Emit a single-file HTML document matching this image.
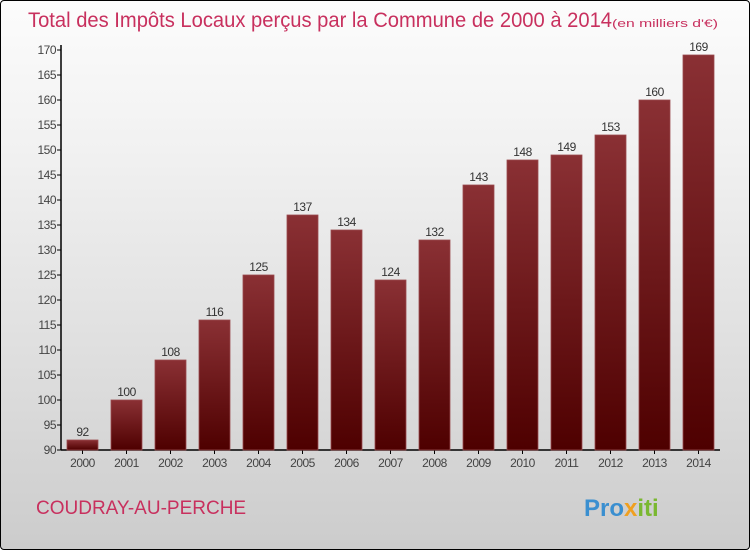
<!DOCTYPE html>
<html><head><meta charset="utf-8">
<style>
body{margin:0;width:750px;height:550px;overflow:hidden;font-family:"Liberation Sans",sans-serif;}
#wrap{position:absolute;left:0;top:0;width:748px;height:548px;border:1px solid #000;border-radius:4px;background:linear-gradient(#fcfcfc,#f2f2f2 25%,#dcdcdc 70%,#cccccc);}
</style></head>
<body>
<div id="wrap">
<svg id="chart" width="750" height="550" style="position:absolute;left:-1px;top:-1px">
<defs>
<linearGradient id="bg" x1="0" y1="0" x2="0" y2="1">
<stop offset="0" stop-color="#8a3034"/><stop offset="1" stop-color="#4e0000"/>
</linearGradient>
</defs>
<text x="28" y="27" font-size="21" fill="#c8305e" textLength="584" lengthAdjust="spacingAndGlyphs">Total des Impôts Locaux perçus par la Commune de 2000 à 2014</text>
<text x="612" y="27" font-size="11" fill="#c8305e" textLength="106" lengthAdjust="spacingAndGlyphs">(en milliers d'€)</text>
<g id="axes"></g>
<g id="bars"></g>
<text x="36" y="514" font-size="19" fill="#c8305e">COUDRAY-AU-PERCHE</text>
<text x="584" y="516" font-size="24" font-weight="bold"><tspan fill="#3a8fd0">Pro</tspan><tspan fill="#f0a020">x</tspan><tspan fill="#7ab830">iti</tspan></text>
</svg>
</div>
<script>
const years=["2000","2001","2002","2003","2004","2005","2006","2007","2008","2009","2010","2011","2012","2013","2014"];
const values=[92,100,108,116,125,137,134,124,132,143,148,149,153,160,169];
const ticks=[90,95,100,105,110,115,120,125,130,135,140,145,150,155,160,165,170];
const NS="http://www.w3.org/2000/svg";
const yMin=90,yMax=170,yTop=50,yBot=450;
const y=v=>yBot-(v-yMin)/(yMax-yMin)*(yBot-yTop);
const x=i=>67+44*i;
const ax=document.getElementById('axes'),bg=document.getElementById('bars');
function mk(t,a,p){const e=document.createElementNS(NS,t);for(const k in a)e.setAttribute(k,a[k]);p.appendChild(e);return e;}
const yl=mk('line',{x1:61,y1:yTop-5,x2:61,y2:yBot,stroke:'#000','stroke-width':1.5},ax);


const xl=mk('line',{x1:61,y1:yBot,x2:720,y2:yBot,stroke:'#000','stroke-width':1.5},ax);


ticks.forEach(t=>{
 mk('line',{x1:57,x2:61,y1:y(t),y2:y(t),stroke:'#000'},ax);
 const tx=mk('text',{x:56,y:y(t)+4,'text-anchor':'end','font-size':12,fill:'#444','letter-spacing':'-0.5'},ax);
 tx.textContent=t;
 
 
});
years.forEach((yr,i)=>{
 const cx=x(i)+15.5;
 mk('line',{x1:cx,x2:cx,y1:yBot,y2:yBot+4,stroke:'#000'},ax);
 const xt=mk('text',{x:cx,y:467,'text-anchor':'middle','font-size':12,fill:'#444','letter-spacing':'-0.5'},ax);
 xt.textContent=yr;
 
 
 const v=values[i];
 const r=mk('rect',{x:x(i),y:y(v),width:31,height:yBot-y(v),fill:'url(#bg)',stroke:'#9a4a4e','stroke-width':0.8},bg);
 
 
 const lb=mk('text',{x:cx,y:y(v)-4,'text-anchor':'middle','font-size':12,fill:'#333','letter-spacing':'-0.5'},bg);
 lb.textContent=v;
 
 
});
</script>
</body></html>
